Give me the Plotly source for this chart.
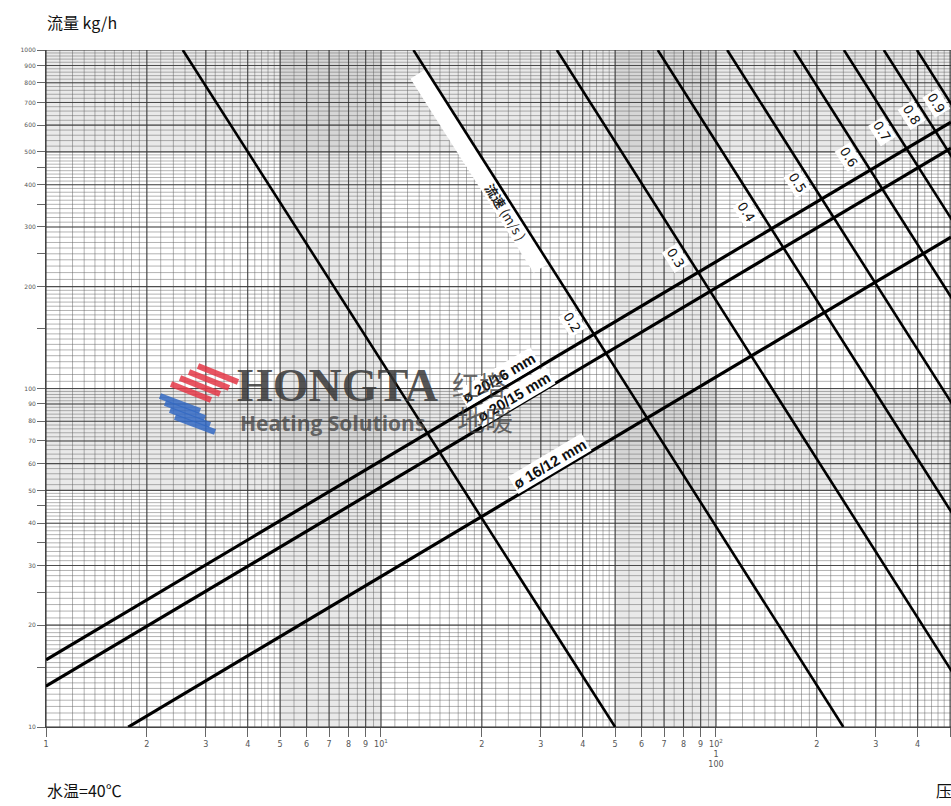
import numpy as np
import plotly.graph_objects as go

# ---- chart data -------------------------------------------------------------
# velocity lines (m/s): pressure drop (Pa/m) where each line meets 1000 kg/h and 10 kg/h
vel_labels = ["0.1", "0.2", "0.3", "0.4", "0.5", "0.6", "0.7", "0.8", "0.9"]
vel_dp_at_q1000 = [2.56, 12.5, 33.5, 67.0, 108.0, 171.0, 241.0, 317.0, 398.0]
vel_dp_at_q10 = [50.0, 240.0, 645.0, 1290.0, 2080.0, 3290.0, 4640.0, 6100.0, 7660.0]
# flow (kg/h) at which each velocity label sits (None = no label)
vel_label_q = [None, 157, 243, 332, 404, 483, 573, 643, 697]

# pipe lines: (pressure drop, flow) at the two ends
pipe_labels = ["ø 20/16 mm", "ø 20/15 mm", "ø 16/12 mm"]
pipe_dp_start = [1.0, 1.0, 1.76]
pipe_q_start = [15.8, 13.2, 10.0]
pipe_dp_end = [503.0, 503.0, 503.0]
pipe_q_end = [612.0, 513.0, 280.0]
pipe_label_dp = [22.5, 25.0, 32.0]
pipe_label_shift = [13, 11, 12]

# axis ticks
x_tick_vals = [1, 2, 3, 4, 5, 6, 7, 8, 9, 10, 20, 30, 40, 50, 60, 70, 80, 90, 100,
               200, 300, 400, 500]
x_tick_text = ["1", "2", "3", "4", "5", "6", "7", "8", "9", "10<sup>1</sup>",
               "2", "3", "4", "5", "6", "7", "8", "9", "10<sup>2</sup><br>1<br>100",
               "2", "3", "4", "5"]
y_tick_vals = [10, 20, 30, 40, 50, 60, 70, 80, 90, 100, 200, 300, 400, 500, 600, 700,
               800, 900, 1000]
y_tick_text = [str(v) for v in y_tick_vals]
y_minor_ticks = [15, 25, 35, 45, 150, 250, 350, 450]

X_MAX = 503.0
fig = go.Figure()

# ---- shaded half-decade bands ------------------------------------------------
band_fill = "rgba(120,120,120,0.16)"
for a, b in [(5, 10), (50, 100), (500, 1000)]:
    fig.add_shape(type="rect", xref="x", yref="paper", x0=a, x1=b, y0=0, y1=1,
                  fillcolor=band_fill, line_width=0, layer="below")
for a, b in [(50, 100), (500, 1000)]:
    fig.add_shape(type="rect", xref="paper", yref="y", x0=0, x1=1, y0=a, y1=b,
                  fillcolor=band_fill, line_width=0, layer="below")


# ---- log-paper grid -----------------------------------------------------------
def fine_steps(decades, s12, s25, s510):
    vals = []
    for d in decades:
        vals += list(np.arange(1, 2, s12) * d)
        vals += list(np.arange(2, 5, s25) * d)
        vals += list(np.arange(5, 10, s510) * d)
    return vals


x_fine = [v for v in fine_steps([1, 10, 100], 0.1, 0.2, 0.5) if v <= X_MAX]
y_fine = fine_steps([10, 100], 0.05, 0.1, 0.2) + [1000]
x_major = list(x_tick_vals)
y_major = list(y_tick_vals)


def grid_trace(xs, ys, color, width):
    gx, gy = [], []
    for v in xs:
        gx += [v, v, None]
        gy += [10, 1000, None]
    for v in ys:
        gx += [1, X_MAX, None]
        gy += [v, v, None]
    return go.Scatter(x=gx, y=gy, mode="lines", line=dict(color=color, width=width),
                      hoverinfo="skip", showlegend=False)


fig.add_trace(grid_trace(x_fine, y_fine, "rgba(95,95,95,0.6)", 0.8))
fig.add_trace(grid_trace(x_major, y_major, "rgba(50,50,50,0.8)", 1.1))


def dp_on_vel(i, q):
    a, b = np.log10(vel_dp_at_q1000[i]), np.log10(vel_dp_at_q10[i])
    return 10 ** (a + (3 - np.log10(q)) * (b - a) / 2)


# white strip carrying the velocity caption along the 0.2 m/s line
strip_q = [850, 227]
fig.add_trace(go.Scatter(x=[dp_on_vel(1, q) * 0.93 for q in strip_q], y=strip_q,
                         mode="lines", line=dict(color="white", width=18),
                         hoverinfo="skip", showlegend=False))

# ---- velocity lines -------------------------------------------------------------
for i, lab in enumerate(vel_labels):
    fig.add_trace(go.Scatter(x=[vel_dp_at_q1000[i], vel_dp_at_q10[i]], y=[1000, 10],
                             mode="lines", line=dict(color="black", width=2.6),
                             name=f"{lab} m/s", hoverinfo="skip", showlegend=False))

# ---- pipe lines -------------------------------------------------------------------
for i, lab in enumerate(pipe_labels):
    fig.add_trace(go.Scatter(x=[pipe_dp_start[i], pipe_dp_end[i]],
                             y=[pipe_q_start[i], pipe_q_end[i]],
                             mode="lines", line=dict(color="black", width=3.2),
                             name=lab, hoverinfo="skip", showlegend=False))

# ---- line labels --------------------------------------------------------------------
label_font = dict(family="DejaVu Sans, sans-serif", size=13, color="#111")
for i, lab in enumerate(vel_labels):
    q = vel_label_q[i]
    if q is None:
        continue
    fig.add_annotation(x=np.log10(dp_on_vel(i, q)), y=np.log10(q), text=lab,
                       textangle=57.6, showarrow=False, xshift=-14,
                       bgcolor="white", borderpad=1, font=label_font)

fig.add_annotation(x=np.log10(dp_on_vel(1, 332)) - 0.03, y=np.log10(332),
                   text="<b>流速</b> (m/s )", textangle=57.6, showarrow=False,
                   font=dict(family="Noto Sans CJK SC", size=13, color="#222"))

for i, lab in enumerate(pipe_labels):
    a0, a1 = np.log10(pipe_dp_start[i]), np.log10(pipe_dp_end[i])
    b0, b1 = np.log10(pipe_q_start[i]), np.log10(pipe_q_end[i])
    lx = np.log10(pipe_label_dp[i])
    ly = b0 + (lx - a0) * (b1 - b0) / (a1 - a0)
    fig.add_annotation(x=lx, y=ly, text=f"<b>{lab}</b>", textangle=-30.7, showarrow=False,
                       yshift=pipe_label_shift[i], bgcolor="white", borderpad=1,
                       font=dict(family="Liberation Sans, sans-serif", size=15, color="#111"))

# ---- watermark logo (drawn over the chart) ------------------------------------------
W, H, L, T = 905.0, 677.0, 46.0, 50.0


def px(xp):
    return (xp - L) / W


def py(yp):
    return 1 - (yp - T) / H


for k in range(4):
    x0, y0 = 198 - 9 * k, 366 + 6 * k
    fig.add_shape(type="line", xref="paper", yref="paper", x0=px(x0), y0=py(y0),
                  x1=px(x0 + 40), y1=py(y0 + 16),
                  line=dict(color="rgba(228,55,70,0.85)", width=6))
for k in range(4):
    x0, y0 = 160 + 5 * k, 396 + 7 * k
    fig.add_shape(type="line", xref="paper", yref="paper", x0=px(x0), y0=py(y0),
                  x1=px(x0 + 40), y1=py(y0 + 15),
                  line=dict(color="rgba(50,105,195,0.85)", width=6))

fig.add_annotation(xref="paper", yref="paper", x=px(235), y=py(385), text="<b>HONGTA</b>",
                   showarrow=False, xanchor="left", yanchor="middle",
                   font=dict(family="Liberation Serif, serif", size=46,
                             color="rgba(55,55,55,0.85)"))
fig.add_annotation(xref="paper", yref="paper", x=px(238), y=py(423),
                   text="<b>Heating Solutions</b>", showarrow=False, xanchor="left",
                   yanchor="middle",
                   font=dict(family="Open Sans, sans-serif", size=21,
                             color="rgba(70,70,70,0.8)"))
fig.add_annotation(xref="paper", yref="paper", x=px(450), y=py(384), text="红塔",
                   showarrow=False, xanchor="left", yanchor="middle",
                   font=dict(family="Noto Sans CJK SC", size=27, color="rgba(60,60,60,0.75)"))
fig.add_annotation(xref="paper", yref="paper", x=px(455), y=py(419), text="地暖",
                   showarrow=False, xanchor="left", yanchor="middle",
                   font=dict(family="Noto Sans CJK SC", size=28, color="rgba(60,60,60,0.75)"))

# ---- captions -------------------------------------------------------------------------
cap_font = dict(family="Noto Sans CJK SC", size=16, color="#111")
fig.add_annotation(xref="paper", yref="paper", x=px(45), y=py(22), text="流量 kg/h",
                   showarrow=False, xanchor="left", yanchor="middle", font=cap_font)
fig.add_annotation(xref="paper", yref="paper", x=px(45), y=py(790), text="水温=40℃",
                   showarrow=False, xanchor="left", yanchor="middle", font=cap_font)
fig.add_annotation(xref="paper", yref="paper", x=px(934), y=py(790), text="压",
                   showarrow=False, xanchor="left", yanchor="middle", font=cap_font)

fig.update_xaxes(type="log", range=[0, np.log10(X_MAX)], tickmode="array",
                 tickvals=x_tick_vals, ticktext=x_tick_text, ticks="outside", ticklen=9,
                 tickcolor="#666", tickwidth=1, showgrid=False, zeroline=False,
                 showline=True, linecolor="#444", linewidth=1,
                 tickfont=dict(family="DejaVu Sans, sans-serif", size=8, color="#555"))
fig.update_yaxes(type="log", range=[1, 3], tickmode="array", tickvals=y_tick_vals,
                 ticktext=y_tick_text, ticks="outside", ticklen=8, tickcolor="#666",
                 tickwidth=1, showgrid=False, zeroline=False, showline=True,
                 linecolor="#444", linewidth=1,
                 minor=dict(tickmode="array", tickvals=y_minor_ticks, ticks="outside",
                            ticklen=8, tickcolor="#666", showgrid=False),
                 tickfont=dict(family="DejaVu Sans, sans-serif", size=6, color="#555"))

fig.update_layout(width=951, height=806, margin=dict(l=46, r=0, t=50, b=79),
                  paper_bgcolor="white", plot_bgcolor="white", showlegend=False)

fig.write_html("out.html")
